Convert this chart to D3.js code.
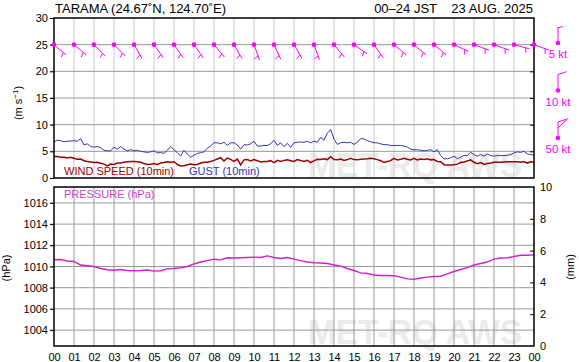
<!DOCTYPE html>
<html>
<head>
<meta charset="utf-8">
<script src="https://cdn.jsdelivr.net/npm/d3@7"></script>
<style>
  body { margin: 0; background: #fff; }
  svg { display: block; font-family: "Liberation Sans", Arial, sans-serif; }
</style>
</head>
<body>
<svg></svg>
<script>
// hour tick labels along the bottom
const hourLabels = ["00","01","02","03","04","05","06","07","08","09","10","11",
  "12","13","14","15","16","17","18","19","20","21","22","23","00"];

// 10-minute mean wind speed (m/s), 00:00 .. 24:00
const windSpeed = [
  4.05,4.05,3.9,3.9,3.75,3.9,3.7,3.5,3.55,3.25,3.1,3.0,2.9,2.95,2.75,2.6,2.25,2.6,
  2.55,2.8,2.8,2.95,3.05,3.1,3.1,3.05,2.95,2.7,2.55,2.6,2.7,2.55,2.8,2.9,3.05,2.95,
  3.05,2.55,2.25,2.3,2.5,2.6,2.5,2.55,2.8,2.95,2.95,3.1,3.3,3.55,3.8,3.2,3.75,3.5,
  3.1,3.55,2.45,3.4,3.45,3.2,3.45,3.25,3.0,3.1,3.1,3.25,2.9,3.3,3.1,3.3,3.4,
  3.25,3.1,3.45,3.3,3.1,3.3,2.9,3.2,3.5,3.45,3.6,3.45,4.0,3.45,3.4,3.55,3.3,3.45,
  3.7,3.45,3.4,3.5,3.55,3.6,3.7,3.6,3.45,3.25,2.9,3.1,3.25,3.7,3.4,3.5,3.7,3.5,
  3.4,3.7,3.4,3.55,3.45,3.6,3.4,3.45,3.1,3.05,2.5,2.45,2.45,2.5,2.6,2.9,3.0,3.2,
  3.4,2.95,2.7,2.9,2.55,2.7,2.8,2.95,2.95,2.95,3.0,3.05,3.05,3.05,3.05,2.95,3.1,
  2.8,3.05,2.95
];

// 10-minute maximum gust (m/s)
const gust = [
  6.75,7.1,7.0,6.8,6.9,6.9,7.0,6.9,7.4,6.2,6.4,5.9,5.8,5.9,5.7,5.2,5.1,5.1,5.8,5.4,
  5.9,5.4,5.1,5.3,5.1,5.2,5.0,4.9,4.8,4.9,5.1,4.7,4.8,4.6,5.2,5.9,5.3,4.75,4.1,5.2,
  4.5,3.9,4.3,4.6,4.75,4.9,5.6,6.0,6.6,6.6,6.4,6.7,6.1,6.6,6.6,6.2,5.4,6.25,6.2,6.4,
  6.9,6.0,6.0,6.1,6.1,6.4,7.1,6.1,6.6,5.9,6.5,
  5.75,6.6,6.7,6.75,6.7,6.9,6.6,6.9,6.7,7.6,7.1,8.4,9.1,7.3,6.3,6.6,6.7,6.6,6.7,6.3,
  6.7,7.4,7.3,7.0,6.8,6.6,6.6,6.4,6.25,6.25,6.1,6.1,6.1,6.1,6.0,5.8,5.4,5.3,5.3,5.2,
  5.1,5.2,5.3,4.9,5.3,4.2,3.6,3.6,3.8,4.1,3.6,3.9,4.25,4.2,4.8,4.4,4.1,4.4,4.1,4.5,
  4.2,4.1,4.2,4.2,4.2,4.25,4.4,4.7,4.9,4.8,5.0,4.5,4.4,4.25
];

// sea-level pressure (hPa), every 20 minutes
const pressure = [
  1010.63,1010.66,1010.52,1010.47,1010.14,1010.07,1010.0,1009.81,1009.69,1009.65,
  1009.72,1009.62,1009.6,1009.62,1009.67,1009.56,1009.6,1009.78,1009.81,1009.88,
  1010.0,1010.24,1010.42,1010.56,1010.69,1010.63,1010.82,1010.8,1010.82,1010.85,
  1010.88,1010.85,1011.0,1010.85,1010.75,1010.85,1010.7,1010.56,1010.42,1010.35,
  1010.33,1010.28,1010.14,1010.03,1009.81,1009.62,1009.4,1009.34,1009.2,1009.15,
  1009.15,1009.13,1009.0,1008.83,1008.8,1008.92,1009.0,1009.05,1009.08,1009.3,
  1009.53,1009.72,1009.9,1010.14,1010.28,1010.42,1010.7,1010.8,1010.82,1010.94,
  1011.06,1011.06,1011.1
];

// hourly wind direction (deg) and barb speed (kt), 00 .. 24
const barbDir = [130,130,135,135,150,145,145,145,140,150,160,155,150,160,140,125,
  145,130,130,130,115,110,110,105,110];
const barbKt = [5,5,5,5,5,5,5,5,5,5,5,5,5,5,5,5,5,5,5,5,5,5,5,5,5];

// wind barb legend
const legendKt = [5, 10, 50];

const width = 579;
const height = 362;
const left = 54, right = 534;
const top1 = 18, bottom1 = 178;
const top2 = 187, bottom2 = 346;

const magenta = "#f0f";
const svg = d3.select("svg").attr("width", width).attr("height", height);

const x = d3.scaleLinear().domain([0, 24]).range([left, right]);
const yWind = d3.scaleLinear().domain([0, 30]).range([bottom1, top1]);
const yLegend = d3.scaleLinear().domain([0, 2]).range([43, 138]);
const yP = d3.scaleLinear().domain([1002.5, 1017.5]).range([bottom2, top2]);
const yRain = d3.scaleLinear().domain([0, 10]).range([bottom2, top2]);

const hours = d3.range(25);

// watermark
[bottom1 - 1, bottom2 - 2].forEach(b => {
  svg.append("text")
    .attr("x", 308).attr("y", b)
    .attr("textLength", 214).attr("lengthAdjust", "spacingAndGlyphs")
    .attr("font-size", 35).attr("font-weight", "bold")
    .attr("fill", "#ebebeb")
    .text("MET-RQ AWS");
});

// grids
const gridTop = svg.append("g");
gridTop.selectAll("line.v").data(hours.slice(1, 24)).join("line")
  .attr("x1", d => x(d)).attr("x2", d => x(d))
  .attr("y1", top1).attr("y2", bottom1)
  .attr("stroke", "#ccc");
gridTop.selectAll("line.h").data([5, 10, 15, 20, 25]).join("line")
  .attr("class", "h")
  .attr("x1", left - 4).attr("x2", right)
  .attr("y1", d => yWind(d)).attr("y2", d => yWind(d))
  .attr("stroke", "#999");

const gridBot = svg.append("g");
gridBot.selectAll("line.v").data(hours.slice(1, 24)).join("line")
  .attr("class", "v")
  .attr("x1", d => x(d)).attr("x2", d => x(d))
  .attr("y1", top2).attr("y2", bottom2)
  .attr("stroke", "#999");
gridBot.selectAll("line.h").data([1004, 1006, 1008, 1010, 1012, 1014, 1016]).join("line")
  .attr("class", "h")
  .attr("x1", left - 4).attr("x2", right)
  .attr("y1", d => yP(d)).attr("y2", d => yP(d))
  .attr("stroke", "#999");

// axes
const styleAxis = g => {
  g.select(".domain").remove();
  g.selectAll("text").attr("font-size", 11).attr("fill", "#000")
    .attr("font-family", "Liberation Sans, Arial, sans-serif");
  g.selectAll(".tick line").attr("stroke", "#000");
};

svg.append("g").attr("transform", `translate(${left},0)`)
  .call(d3.axisLeft(yWind).tickValues(d3.range(0, 31, 5)).tickSize(4).tickPadding(2))
  .call(styleAxis);
svg.append("g").attr("transform", `translate(${right},0)`)
  .call(d3.axisLeft(yWind).tickValues(d3.range(5, 30, 5)).tickSize(4).tickFormat(""))
  .call(styleAxis);

svg.append("g").attr("transform", `translate(${left},0)`)
  .call(d3.axisLeft(yP).tickValues(d3.range(1004, 1017, 2)).tickSize(4).tickPadding(2)
    .tickFormat(d3.format("d")))
  .call(styleAxis);
svg.append("g").attr("transform", `translate(${right},0)`)
  .call(d3.axisLeft(yRain).tickValues([2, 4, 6, 8]).tickSize(4).tickFormat(""))
  .call(styleAxis);
svg.append("g").attr("transform", `translate(${right},0)`)
  .call(d3.axisRight(yRain).tickValues(d3.range(0, 11, 2)).tickSize(0).tickPadding(6))
  .call(styleAxis);

svg.append("g").attr("transform", `translate(0,${bottom2})`)
  .call(d3.axisBottom(x).tickValues(hours).tickSize(0).tickPadding(7)
    .tickFormat(d => hourLabels[d]))
  .call(styleAxis);

// series
const lineWind = d3.line().x((d, i) => x(i / 6)).y(d => yWind(d));
svg.append("path").datum(gust).attr("d", lineWind)
  .attr("fill", "none").attr("stroke", "#3434b0").attr("stroke-width", 1);
svg.append("path").datum(windSpeed).attr("d", lineWind)
  .attr("fill", "none").attr("stroke", "#a00000").attr("stroke-width", 1.5);

svg.append("path").datum(pressure)
  .attr("d", d3.line().x((d, i) => x(i / 3)).y(d => yP(d)))
  .attr("fill", "none").attr("stroke", "#d020d0").attr("stroke-width", 1.4);

// frames
[[top1, bottom1], [top2, bottom2]].forEach(([t, b]) => {
  svg.append("rect").attr("x", left).attr("y", t)
    .attr("width", right - left).attr("height", b - t)
    .attr("fill", "none").attr("stroke", "#000").attr("stroke-width", 1.5);
});

// wind barbs
function drawBarb(g, cx, cy, dir, kt, atTip) {
  const L = 16;
  const r = dir * Math.PI / 180;
  const ux = Math.sin(r), uy = -Math.cos(r);
  const a = Math.atan2(uy, ux) + 72 * Math.PI / 180;
  const fx = Math.cos(a), fy = Math.sin(a);
  const tx = cx + L * ux, ty = cy + L * uy;
  g.append("line").attr("x1", cx).attr("y1", cy).attr("x2", tx).attr("y2", ty);
  if (kt >= 50) {
    g.append("path").attr("fill", "none")
      .attr("d", `M${tx},${ty}L${tx + 10 * fx},${ty + 10 * fy}L${tx - 6 * ux},${ty - 6 * uy}`);
  } else if (kt >= 10) {
    g.append("line").attr("x1", tx).attr("y1", ty)
      .attr("x2", tx + 9 * fx).attr("y2", ty + 9 * fy);
  } else {
    const o = atTip ? 1 : 4;
    const bx = tx - o * ux, by = ty - o * uy;
    g.append("line").attr("x1", bx).attr("y1", by)
      .attr("x2", bx + 5 * fx).attr("y2", by + 5 * fy);
  }
  g.append("circle").attr("cx", cx).attr("cy", cy).attr("r", 2.3)
    .attr("fill", magenta).attr("stroke", "none");
}

const barbs = svg.append("g").attr("stroke", magenta).attr("stroke-width", 1);
hours.forEach(h => drawBarb(barbs, x(h), yWind(25), barbDir[h], barbKt[h], false));

legendKt.forEach((kt, i) => {
  drawBarb(barbs, 558, yLegend(i), 0, kt, true);
  svg.append("text").attr("x", 558).attr("y", yLegend(i) + 15)
    .attr("text-anchor", "middle").attr("font-size", 11.5).attr("fill", magenta)
    .text(kt + " kt");
});

// labels
svg.append("text").attr("x", 55).attr("y", 13).attr("font-size", 13)
  .text("TARAMA (24.67˚N, 124.70˚E)");
svg.append("text").attr("x", 437).attr("y", 13).attr("font-size", 13)
  .attr("text-anchor", "end").text("00–24 JST");
svg.append("text").attr("x", 533).attr("y", 13).attr("font-size", 13)
  .attr("text-anchor", "end").text("23 AUG. 2025");

svg.append("text").attr("x", 64).attr("y", 175).attr("font-size", 11)
  .attr("fill", "#a00000").text("WIND SPEED (10min)");
svg.append("text").attr("x", 189).attr("y", 175).attr("font-size", 11)
  .attr("fill", "#3434b0").text("GUST (10min)");
svg.append("text").attr("x", 64).attr("y", 198).attr("font-size", 11)
  .attr("fill", "#cc44cc").text("PRESSURE (hPa)");

const vlabel = (cx, cy, content) => {
  const t = svg.append("text").attr("font-size", 11)
    .attr("text-anchor", "middle")
    .attr("transform", `translate(${cx},${cy}) rotate(-90)`);
  content(t);
};
vlabel(22, 103, t => {
  t.append("tspan").text("(m s");
  t.append("tspan").attr("dy", -4).attr("font-size", 8).text("−1");
  t.append("tspan").attr("dy", 4).text(")");
});
vlabel(10, 268, t => t.text("(hPa)"));
vlabel(574, 267, t => t.text("(mm)"));
</script>
</body>
</html>
